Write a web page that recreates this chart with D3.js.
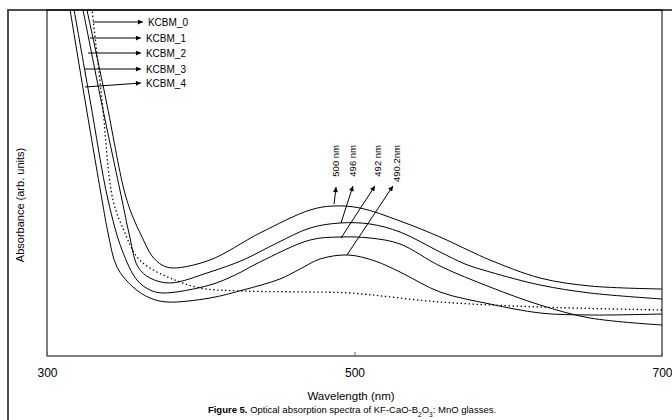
<!DOCTYPE html>
<html>
  <head>
    <title>Optical absorption spectra</title>
    <script src="https://cdn.jsdelivr.net/npm/d3@7/dist/d3.min.js"></script>
    <style>
      body { margin: 0; background: #fff; }
      text { font-family: Arial, "Liberation Sans", sans-serif; fill: #000; }
    </style>
  </head>
  <body>
    <svg id="svg" width="672" height="420" xmlns="http://www.w3.org/2000/svg"></svg>
    <script>
      // Wavelength (nm) and absorbance (arb. units)
      let wlA = [321.8, 326.0, 338.4, 350.1, 355.3, 361.8, 368.3, 374.8, 382.0, 406.0, 438.5, 471.1, 486.0, 503.6, 529.6, 555.6, 575.1, 588.1, 620.7, 653.2, 700];
      let absA = [3.76, 3.46, 2.56, 1.66, 1.41, 1.19, 1.00, 0.91, 0.88, 0.96, 1.23, 1.46, 1.50, 1.48, 1.35, 1.19, 1.05, 0.96, 0.78, 0.70, 0.67];

      let wlB = [319.3, 323.4, 335.1, 348.8, 353.3, 359.2, 367.0, 380.0, 406.0, 427.5, 449.6, 471.1, 490.6, 510.1, 529.6, 555.6, 571.9, 588.1, 620.7, 653.2, 700];
      let absB = [3.76, 3.46, 2.56, 1.56, 1.23, 0.89, 0.78, 0.73, 0.84, 0.96, 1.13, 1.28, 1.33, 1.32, 1.24, 1.04, 0.92, 0.84, 0.71, 0.63, 0.57];

      let wlC = [314.0, 317.6, 328.0, 339.7, 348.8, 358.5, 367.0, 375.4, 406.0, 422.3, 438.5, 471.1, 490.6, 510.1, 529.6, 555.6, 588.1, 620.7, 653.2, 700];
      let absC = [3.76, 3.46, 2.56, 1.56, 1.06, 0.76, 0.66, 0.63, 0.71, 0.81, 0.94, 1.16, 1.19, 1.18, 1.12, 0.90, 0.69, 0.51, 0.38, 0.31];

      let wlD = [311.7, 315.0, 324.7, 335.8, 339.7, 345.5, 355.9, 367.0, 378.0, 406.0, 427.5, 451.5, 464.6, 477.6, 495.8, 513.3, 529.6, 555.6, 588.1, 620.7, 653.2, 700];
      let absD = [3.76, 3.46, 2.56, 1.56, 1.23, 0.89, 0.69, 0.58, 0.54, 0.58, 0.66, 0.77, 0.87, 0.97, 1.01, 0.95, 0.84, 0.64, 0.52, 0.43, 0.41, 0.42];

      // base glass (dotted)
      let wlE = [327.1, 329.3, 335.8, 342.9, 350.7, 358.5, 367.0, 380.0, 399.5, 427.5, 471.1, 497.1, 555.6, 620.7, 700];
      let absE = [3.76, 3.46, 2.56, 1.56, 1.23, 0.99, 0.88, 0.78, 0.68, 0.65, 0.64, 0.63, 0.54, 0.49, 0.46];

      // legend labels with leader start (on curve) and end
      let legendNames = ["KCBM_0", "KCBM_1", "KCBM_2", "KCBM_3", "KCBM_4"];
      let legendFrom = [[329.9, 3.34], [328.0, 3.18], [326.7, 3.03], [324.7, 2.87], [324.7, 2.69]];
      let legendTo = [[362.4, 3.34], [361.1, 3.18], [361.1, 3.03], [361.1, 2.87], [361.1, 2.73]];

      // peak position labels
      let peakNames = ["500 nm", "496 nm", "492 nm", "490.2nm"];
      let peakFrom = [[486.7, 1.52], [491.2, 1.33], [491.2, 1.18], [495.1, 1.01]];
      let peakTo = [[488.0, 1.69], [499.0, 1.70], [513.3, 1.70], [525.0, 1.70]];
      let peakLabelX = [488.0, 499.0, 515.3, 527.6];

      let xTicks = [300, 500, 700];

      let svg = d3.select("svg");
      let mLeft = 47, mRight = 662, mTop = 10, mBottom = 356;

      let x = d3.scaleLinear().domain([300, 700]).range([mLeft, mRight]);
      let y = d3.scaleLinear().domain([0, 3.46]).range([mBottom, mTop]);

      // outer figure frame (runs off the picture on the right and bottom)
      svg.append("rect")
        .attr("x", 8).attr("y", 10)
        .attr("width", 700).attr("height", 450)
        .attr("fill", "none")
        .attr("stroke", "#3a3a3a")
        .attr("stroke-width", 1.8);

      // arrow marker
      let defs = svg.append("defs");
      defs.append("marker")
        .attr("id", "arrow")
        .attr("viewBox", "0 0 10 10")
        .attr("refX", 10).attr("refY", 5)
        .attr("markerWidth", 6).attr("markerHeight", 5)
        .attr("orient", "auto")
        .append("path")
        .attr("d", "M0,0L10,5L0,10z")
        .attr("fill", "#000");

      defs.append("clipPath")
        .attr("id", "plotclip")
        .append("rect")
        .attr("x", mLeft).attr("y", mTop)
        .attr("width", mRight - mLeft).attr("height", mBottom - mTop);

      // plot box
      svg.append("rect")
        .attr("x", mLeft).attr("y", mTop)
        .attr("width", mRight - mLeft).attr("height", mBottom - mTop)
        .attr("fill", "none")
        .attr("stroke", "#000")
        .attr("stroke-width", 1);

      // x axis
      let xAxis = d3.axisBottom(x)
        .tickValues(xTicks)
        .tickFormat(d3.format("d"))
        .tickSizeInner(-4)
        .tickSizeOuter(0)
        .tickPadding(12);
      let gx = svg.append("g")
        .attr("transform", "translate(0," + mBottom + ")")
        .call(xAxis);
      gx.select(".domain").remove();
      gx.selectAll("text")
        .style("font-family", "Arial, 'Liberation Sans', sans-serif")
        .style("font-size", "12px")
        .attr("fill", "#000");
      gx.selectAll("line").attr("stroke", "#666");

      // curves
      let line = d3.line()
        .x((d) => x(d[0]))
        .y((d) => y(d[1]))
        .curve(d3.curveCatmullRom.alpha(0.5));

      let curves = [
        { wl: wlA, ab: absA, dash: null },
        { wl: wlB, ab: absB, dash: null },
        { wl: wlC, ab: absC, dash: null },
        { wl: wlD, ab: absD, dash: null },
        { wl: wlE, ab: absE, dash: "1.4,2.6" },
      ];

      let gc = svg.append("g").attr("clip-path", "url(#plotclip)");
      curves.forEach((c) => {
        let pts = c.wl.map((w, i) => [w, c.ab[i]]);
        gc.append("path")
          .attr("d", line(pts))
          .attr("fill", "none")
          .attr("stroke", "#000")
          .attr("stroke-width", c.dash ? 1.3 : 1)
          .attr("stroke-dasharray", c.dash);
      });

      // legend leaders
      legendNames.forEach((name, i) => {
        svg.append("line")
          .attr("x1", x(legendFrom[i][0])).attr("y1", y(legendFrom[i][1]))
          .attr("x2", x(legendTo[i][0])).attr("y2", y(legendTo[i][1]))
          .attr("stroke", "#000")
          .attr("stroke-width", 1)
          .attr("marker-end", "url(#arrow)");
        svg.append("text")
          .attr("x", x(legendTo[i][0]) + 5)
          .attr("y", y(legendTo[i][1]))
          .attr("dy", "0.35em")
          .style("font-size", "10px")
          .text(name);
      });

      // peak leaders
      peakNames.forEach((name, i) => {
        svg.append("line")
          .attr("x1", x(peakFrom[i][0])).attr("y1", y(peakFrom[i][1]))
          .attr("x2", x(peakTo[i][0])).attr("y2", y(peakTo[i][1]))
          .attr("stroke", "#000")
          .attr("stroke-width", 1)
          .attr("marker-end", "url(#arrow)");
        let px = x(peakLabelX[i]), py = 145;
        svg.append("text")
          .attr("transform", "translate(" + px + "," + py + ") rotate(-90)")
          .attr("text-anchor", "end")
          .attr("dy", "0.35em")
          .style("font-size", "9.5px")
          .text(name);
      });

      // axis titles
      svg.append("text")
        .attr("transform", "translate(20," + 205 + ") rotate(-90)")
        .attr("text-anchor", "middle")
        .attr("dy", "0.35em")
        .style("font-size", "11px")
        .text("Absorbance (arb. units)");

      svg.append("text")
        .attr("x", 351).attr("y", 400)
        .attr("text-anchor", "middle")
        .style("font-size", "11.5px")
        .text("Wavelength (nm)");

      // caption
      let cap = svg.append("text")
        .attr("x", 352).attr("y", 413)
        .attr("text-anchor", "middle")
        .style("font-size", "9.5px");
      cap.append("tspan").style("font-weight", "bold").text("Figure 5.");
      cap.append("tspan").text(" Optical absorption spectra of KF-CaO-B");
      cap.append("tspan").attr("baseline-shift", "sub").style("font-size", "6.5px").text("2");
      cap.append("tspan").text("O");
      cap.append("tspan").attr("baseline-shift", "sub").style("font-size", "6.5px").text("3");
      cap.append("tspan").text(": MnO glasses.");
    </script>
  </body>
</html>
